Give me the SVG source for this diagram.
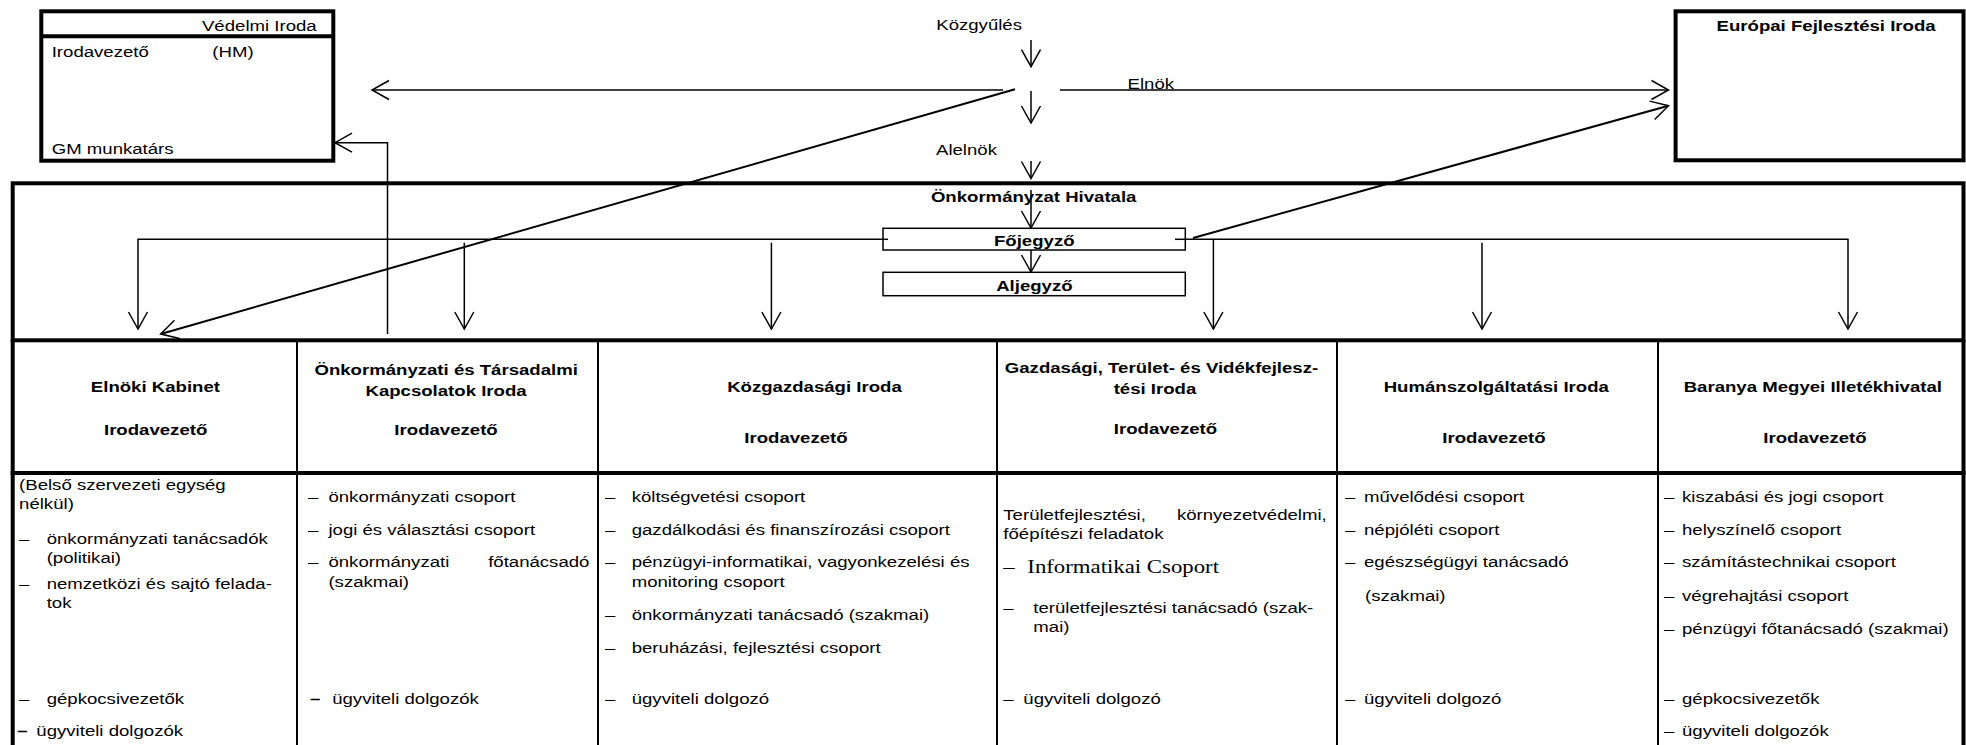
<svg xmlns="http://www.w3.org/2000/svg" width="1966" height="745" viewBox="0 0 1966 745">
<style>
.t{font-family:"Liberation Sans",Arial,sans-serif;font-size:15.5px;fill:#000}
.b{font-weight:bold}
.m{text-anchor:middle}
.e{text-anchor:end}
.s{font-family:"Liberation Serif","Times New Roman",serif;font-size:19px}
.thick{fill:none;stroke:#000;stroke-width:4}
.thin{fill:#fff;stroke:#000;stroke-width:1.5}
.col{stroke:#000;stroke-width:2}
.c{fill:none;stroke:#000;stroke-width:1.5}
.d{fill:none;stroke:#000;stroke-width:2}
</style>
<defs>
<marker id="ah" markerUnits="userSpaceOnUse" viewBox="-20 -12 24 24" markerWidth="24" markerHeight="24" refX="0" refY="0" orient="auto">
<path d="M-17,-9.5 L0,0 L-17,9.5" fill="none" stroke="#000" stroke-width="1.5"/>
</marker>
</defs>
<rect width="1966" height="745" fill="#fff"/>

<g id="vedelmi-iroda">
<rect class="thick" x="41.3" y="11.3" width="292" height="149.4"/>
<line class="thick" x1="41.3" y1="36.3" x2="333.3" y2="36.3"/>
<g transform="scale(1.2 1)" class="t">
<text class="e" x="263.9" y="30.7">Védelmi Iroda</text>
<text x="43.1" y="56.7">Irodavezető</text>
<text x="176.9" y="56.7">(HM)</text>
<text x="43.1" y="154">GM munkatárs</text>
</g>
</g>

<g id="kozgyules"><g transform="scale(1.2 1)" class="t"><text x="780.2" y="30">Közgyűlés</text></g></g>
<g id="elnok"><g transform="scale(1.2 1)" class="t"><text x="939.6" y="89">Elnök</text></g></g>
<g id="alelnok"><g transform="scale(1.2 1)" class="t"><text x="780" y="155">Alelnök</text></g></g>

<g id="europai-fejlesztesi-iroda">
<rect class="thick" x="1675.6" y="11.3" width="287.9" height="149"/>
<g transform="scale(1.2 1)" class="t b"><text x="1430.5" y="30.7">Európai Fejlesztési Iroda</text></g>
</g>

<g id="hivatal">
<rect class="thick" x="12.7" y="183.3" width="1950.8" height="157"/>
<g transform="scale(1.2 1)" class="t b m"><text x="861.4" y="202">Önkormányzat Hivatala</text></g>
</g>

<g id="table-frame">
<line class="thick" x1="12.7" y1="340" x2="12.7" y2="747"/>
<line class="thick" x1="1963.5" y1="340" x2="1963.5" y2="747"/>
<line class="thick" x1="10.7" y1="473" x2="1965.5" y2="473"/>
<line class="col" x1="297" y1="342" x2="297" y2="745"/>
<line class="col" x1="598" y1="342" x2="598" y2="745"/>
<line class="col" x1="997" y1="342" x2="997" y2="745"/>
<line class="col" x1="1337" y1="342" x2="1337" y2="745"/>
<line class="col" x1="1658" y1="342" x2="1658" y2="745"/>
</g>

<g id="connectors">
<line class="c" x1="1003" y1="90" x2="372" y2="90" marker-end="url(#ah)"/>
<line class="c" x1="1060" y1="90" x2="1668.5" y2="90" marker-end="url(#ah)"/>
<line class="d" x1="1015" y1="89.3" x2="160.7" y2="334" marker-end="url(#ah)"/>
<line class="d" x1="1193" y1="238" x2="1668.5" y2="105.7" marker-end="url(#ah)"/>
<path class="c" d="M387.5,334 V142.7 H335" marker-end="url(#ah)"/>
<line class="c" x1="1031" y1="40" x2="1031" y2="66.7" marker-end="url(#ah)"/>
<line class="c" x1="1031" y1="91" x2="1031" y2="123" marker-end="url(#ah)"/>
<line class="c" x1="1031" y1="161" x2="1031" y2="178.5" marker-end="url(#ah)"/>
<line class="c" x1="1031" y1="190" x2="1031" y2="228" marker-end="url(#ah)"/>
<line class="c" x1="1031" y1="250" x2="1031" y2="272" marker-end="url(#ah)"/>
<path class="c" d="M887.5,239.3 H138 V329" marker-end="url(#ah)"/>
<path class="c" d="M1175,239.3 H1848 V329" marker-end="url(#ah)"/>
<line class="c" x1="464.3" y1="242.7" x2="464.3" y2="329" marker-end="url(#ah)"/>
<line class="c" x1="771.4" y1="242.7" x2="771.4" y2="329" marker-end="url(#ah)"/>
<line class="c" x1="1213.4" y1="239.3" x2="1213.4" y2="329" marker-end="url(#ah)"/>
<line class="c" x1="1482" y1="242.7" x2="1482" y2="329" marker-end="url(#ah)"/>
</g>

<g id="fojegyzo">
<rect class="thin" x="883" y="228.3" width="302.3" height="21.7"/>
<line class="c" x1="883" y1="239.3" x2="888" y2="239.3"/>
<line class="c" x1="1175" y1="239.3" x2="1185.3" y2="239.3"/>
<g transform="scale(1.2 1)" class="t b m"><text x="861.9" y="246">Főjegyző</text></g>
</g>

<g id="aljegyzo">
<rect class="thin" x="883" y="272.3" width="302.3" height="23.4"/>
<g transform="scale(1.2 1)" class="t b m"><text x="862" y="291.5">Aljegyző</text></g>
</g>

<g id="elnoki-kabinet">
<g transform="scale(1.2 1)" class="t">
<text class="b m" x="129.5" y="392">Elnöki Kabinet</text>
<text class="b m" x="129.7" y="435">Irodavezető</text>
<text x="15.9" y="490">(Belső szervezeti egység</text>
<text x="15.9" y="509">nélkül)</text>
<text y="544"><tspan x="15.9">–</tspan><tspan x="38.9">önkormányzati tanácsadók</tspan></text>
<text x="38.9" y="563">(politikai)</text>
<text y="589"><tspan x="15.9">–</tspan><tspan x="38.9">nemzetközi és sajtó felada-</tspan></text>
<text x="38.9" y="608">tok</text>
<text y="704"><tspan x="15.9">–</tspan><tspan x="38.9">gépkocsivezetők</tspan></text>
<text y="736"><tspan x="14.3" class="b">–</tspan><tspan x="30.3">ügyviteli dolgozók</tspan></text>
</g>
</g>

<g id="onkormanyzati-tarsadalmi">
<g transform="scale(1.2 1)" class="t">
<text class="b m" x="371.8" y="375">Önkormányzati és Társadalmi</text>
<text class="b m" x="371.7" y="396.5">Kapcsolatok Iroda</text>
<text class="b m" x="371.7" y="435">Irodavezető</text>
<text y="502"><tspan x="256.7">–</tspan><tspan x="273.7">önkormányzati csoport</tspan></text>
<text y="535"><tspan x="256.7">–</tspan><tspan x="273.7">jogi és választási csoport</tspan></text>
<text y="567"><tspan x="256.7">–</tspan><tspan x="273.7">önkormányzati</tspan></text>
<text class="e" x="491.2" y="567">főtanácsadó</text>
<text x="273.7" y="587">(szakmai)</text>
<text y="704"><tspan x="258.3" class="b">–</tspan><tspan x="276.8">ügyviteli dolgozók</tspan></text>
</g>
</g>

<g id="kozgazdasagi-iroda">
<g transform="scale(1.2 1)" class="t">
<text class="b m" x="678.7" y="392">Közgazdasági Iroda</text>
<text class="b m" x="663.3" y="443">Irodavezető</text>
<text y="502"><tspan x="504.2">–</tspan><tspan x="526.4">költségvetési csoport</tspan></text>
<text y="535"><tspan x="504.2">–</tspan><tspan x="526.4">gazdálkodási és finanszírozási csoport</tspan></text>
<text y="567"><tspan x="504.2">–</tspan><tspan x="526.4">pénzügyi-informatikai, vagyonkezelési és</tspan></text>
<text x="526.4" y="587">monitoring csoport</text>
<text y="620"><tspan x="504.2">–</tspan><tspan x="526.4">önkormányzati tanácsadó (szakmai)</tspan></text>
<text y="653"><tspan x="504.2">–</tspan><tspan x="526.4">beruházási, fejlesztési csoport</tspan></text>
<text y="704"><tspan x="504.2">–</tspan><tspan x="526.4">ügyviteli dolgozó</tspan></text>
</g>
</g>

<g id="gazdasagi-teruletfejlesztesi">
<g transform="scale(1.2 1)" class="t">
<text class="b m" x="967.9" y="373">Gazdasági, Terület- és Vidékfejlesz-</text>
<text class="b m" x="962.5" y="394">tési Iroda</text>
<text class="b m" x="971.2" y="434">Irodavezető</text>
<text x="836.1" y="520">Területfejlesztési,</text>
<text class="e" x="1105.6" y="520">környezetvédelmi,</text>
<text x="836.1" y="539">főépítészi feladatok</text>
<text class="s" y="573"><tspan x="836.1">–</tspan><tspan x="856.1">Informatikai Csoport</tspan></text>
<text y="613"><tspan x="836.1">–</tspan><tspan x="861.1">területfejlesztési tanácsadó (szak-</tspan></text>
<text x="861.1" y="632">mai)</text>
<text y="704"><tspan x="836.1">–</tspan><tspan x="852.8">ügyviteli dolgozó</tspan></text>
</g>
</g>

<g id="humanszolgaltatasi-iroda">
<g transform="scale(1.2 1)" class="t">
<text class="b m" x="1246.9" y="392">Humánszolgáltatási Iroda</text>
<text class="b m" x="1245" y="443">Irodavezető</text>
<text y="502"><tspan x="1120.8">–</tspan><tspan x="1136.7">művelődési csoport</tspan></text>
<text y="535"><tspan x="1120.8">–</tspan><tspan x="1136.7">népjóléti csoport</tspan></text>
<text y="567"><tspan x="1120.8">–</tspan><tspan x="1136.7">egészségügyi tanácsadó</tspan></text>
<text x="1137.5" y="601">(szakmai)</text>
<text y="704"><tspan x="1120.8">–</tspan><tspan x="1136.7">ügyviteli dolgozó</tspan></text>
</g>
</g>

<g id="baranya-illetekhivatal">
<g transform="scale(1.2 1)" class="t">
<text class="b m" x="1510.7" y="392">Baranya Megyei Illetékhivatal</text>
<text class="b m" x="1512.5" y="443">Irodavezető</text>
<text y="502"><tspan x="1386.7">–</tspan><tspan x="1401.7">kiszabási és jogi csoport</tspan></text>
<text y="535"><tspan x="1386.7">–</tspan><tspan x="1401.7">helyszínelő csoport</tspan></text>
<text y="567"><tspan x="1386.7">–</tspan><tspan x="1401.7">számítástechnikai csoport</tspan></text>
<text y="601"><tspan x="1386.7">–</tspan><tspan x="1401.7">végrehajtási csoport</tspan></text>
<text y="634"><tspan x="1386.7">–</tspan><tspan x="1401.7">pénzügyi főtanácsadó (szakmai)</tspan></text>
<text y="704"><tspan x="1386.7">–</tspan><tspan x="1401.7">gépkocsivezetők</tspan></text>
<text y="736"><tspan x="1386.7">–</tspan><tspan x="1401.7">ügyviteli dolgozók</tspan></text>
</g>
</g>
</svg>
